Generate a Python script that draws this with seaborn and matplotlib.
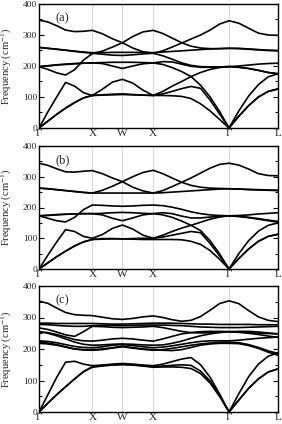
import matplotlib
matplotlib.use("Agg")
import matplotlib.pyplot as plt
from matplotlib.ticker import MultipleLocator
import pandas as pd
import seaborn as sns

# ---------------- data ----------------
# k-path coordinate (fraction of total path length) of the sampled k-points
K = [0.000, 0.037, 0.074, 0.111, 0.149, 0.186, 0.223,
     0.265, 0.307, 0.349,
     0.392, 0.435, 0.478,
     0.518, 0.557, 0.597, 0.636, 0.676, 0.716, 0.755, 0.795,
     0.836, 0.877, 0.918, 0.959, 1.000]
SYM_IDX = [0, 6, 9, 12, 20, 25]
SYM_LABELS = ["Γ", "X", "W", "X", "Γ", "L"]
PANEL_LABELS = ["(a)", "(b)", "(c)"]

# panel (a) branches, cm^-1
a1 = [348, 342, 330, 316, 311, 312, 315, 304, 288, 275, 258, 246, 241, 249, 261, 274, 287, 300, 316, 335, 346, 338, 322, 306, 300, 299]
a2 = [198, 189, 178, 171, 188, 219, 240, 248, 261, 275, 295, 310, 315, 305, 290, 275, 264, 258, 256, 256, 257, 256, 254, 252, 250, 249]
a3 = [260, 257, 254, 251, 248, 245, 243, 243, 244, 244, 244, 244, 243, 245, 247, 249, 251, 253, 255, 256, 257, 257, 255, 253, 251, 250]
a4 = [260, 257, 254, 251, 247, 244, 241, 238, 235, 234, 236, 239, 241, 233, 222, 210, 202, 198, 197, 197, 198, 200, 203, 206, 208, 209]
a5 = [198, 201, 204, 206, 208, 209, 210, 211, 212, 212, 212, 211, 210, 214, 213, 206, 199, 196, 196, 197, 198, 196, 192, 186, 179, 175]
a6 = [198, 200, 203, 205, 207, 209, 210, 208, 200, 192, 200, 207, 210, 205, 195, 182, 166, 138, 100, 54, 0, 55, 103, 140, 165, 175]
a7 = [0, 52, 100, 147, 135, 114, 105, 125, 148, 157, 145, 122, 105, 118, 135, 150, 166, 179, 189, 195, 198, 196, 192, 186, 179, 175]
a8 = [0, 22, 44, 64, 82, 97, 105, 106, 107, 108, 107, 106, 105, 105, 104, 102, 95, 78, 55, 28, 0, 38, 72, 100, 118, 126]
a9 = [0, 22, 44, 64, 82, 97, 105, 107, 109, 110, 108, 106, 105, 110, 118, 127, 134, 128, 90, 46, 0, 38, 72, 100, 118, 126]

# panel (b)
b1 = [344, 337, 326, 316, 315, 318, 320, 310, 296, 284, 266, 254, 247, 255, 268, 282, 296, 312, 328, 340, 344, 338, 325, 310, 304, 303]
b2 = [263, 261, 258, 255, 252, 249, 247, 256, 269, 284, 300, 314, 321, 310, 296, 282, 272, 266, 263, 262, 261, 260, 259, 258, 257, 256]
b3 = [263, 261, 258, 255, 252, 249, 247, 247, 247, 247, 247, 247, 247, 248, 250, 252, 254, 256, 258, 260, 261, 260, 258, 257, 256, 255]
b4 = [173, 165, 157, 153, 168, 193, 208, 207, 205, 204, 205, 207, 208, 206, 201, 194, 186, 180, 176, 174, 173, 174, 176, 179, 181, 183]
b5 = [173, 175, 177, 178, 179, 180, 180, 181, 183, 184, 183, 181, 180, 183, 180, 172, 166, 166, 169, 171, 173, 171, 168, 164, 159, 155]
b6 = [173, 174, 176, 178, 179, 180, 180, 176, 165, 157, 166, 176, 180, 176, 168, 156, 142, 125, 92, 50, 0, 50, 92, 123, 142, 150]
b7 = [0, 45, 88, 128, 122, 106, 100, 112, 132, 143, 130, 110, 100, 110, 122, 133, 142, 152, 162, 169, 173, 171, 167, 162, 157, 152]
b8 = [0, 20, 40, 58, 75, 88, 96, 97, 98, 98, 97, 96, 96, 96, 96, 95, 90, 80, 60, 32, 0, 34, 65, 90, 106, 113]
b9 = [0, 20, 40, 58, 75, 88, 96, 99, 99, 98, 99, 100, 100, 104, 110, 116, 122, 118, 83, 43, 0, 34, 65, 90, 106, 113]

# panel (c)
c1 = [352, 345, 330, 316, 309, 307, 306, 301, 296, 294, 297, 302, 305, 300, 293, 288, 291, 303, 323, 344, 353, 344, 322, 302, 291, 287]
c2 = [282, 282, 281, 281, 281, 281, 281, 280, 279, 279, 280, 281, 282, 282, 282, 281, 280, 279, 279, 278, 278, 278, 278, 277, 277, 277]
c3 = [278, 277, 275, 273, 272, 272, 274, 275, 275, 274, 275, 276, 276, 276, 275, 274, 272, 270, 269, 268, 268, 268, 269, 270, 271, 272]
c4 = [267, 262, 254, 245, 240, 255, 272, 271, 269, 268, 269, 270, 272, 268, 262, 256, 252, 251, 252, 254, 255, 254, 252, 250, 249, 248]
c5 = [255, 252, 246, 238, 230, 226, 225, 228, 232, 234, 232, 228, 225, 232, 240, 248, 252, 255, 256, 256, 255, 253, 250, 246, 241, 237]
c6 = [255, 250, 242, 232, 222, 215, 212, 213, 215, 216, 215, 213, 212, 213, 218, 225, 234, 242, 248, 252, 255, 256, 256, 254, 251, 248]
c7 = [226, 224, 220, 214, 208, 205, 204, 207, 212, 214, 211, 207, 204, 206, 210, 215, 220, 224, 226, 226, 226, 228, 231, 234, 236, 238]
c8 = [222, 219, 214, 207, 200, 197, 196, 198, 203, 207, 203, 199, 196, 198, 202, 207, 212, 216, 219, 221, 222, 220, 214, 205, 194, 186]
c9 = [218, 216, 212, 206, 200, 198, 198, 200, 204, 209, 204, 200, 198, 196, 195, 198, 205, 212, 216, 218, 218, 217, 211, 202, 190, 180]
c10 = [0, 55, 110, 158, 161, 152, 147, 149, 152, 154, 152, 149, 147, 152, 160, 168, 173, 150, 110, 58, 0, 58, 112, 152, 177, 188]
c11 = [0, 28, 55, 80, 105, 128, 142, 146, 149, 150, 149, 146, 142, 143, 143, 142, 138, 122, 92, 50, 0, 38, 75, 105, 127, 137]
c12 = [0, 28, 55, 80, 105, 128, 144, 148, 150, 152, 150, 147, 144, 146, 148, 150, 148, 130, 98, 54, 0, 38, 75, 105, 127, 137]

PANELS = [
    [a1, a2, a3, a4, a5, a6, a7, a8, a9],
    [b1, b2, b3, b4, b5, b6, b7, b8, b9],
    [c1, c2, c3, c4, c5, c6, c7, c8, c9, c10, c11, c12],
]

# ---------------- style ----------------
sns.set_style("white")
plt.rcParams["font.family"] = ["Liberation Serif", "DejaVu Serif"]
plt.rcParams["mathtext.fontset"] = "stix"

W, H = 282, 424
fig = plt.figure(figsize=(W / 100, H / 100), dpi=100)

# axes boxes in pixels: (left, top, right, bottom)
boxes = [(39, 4, 278, 128), (39, 146, 278, 269), (39, 286, 278, 412)]

for box, bands, plabel in zip(boxes, PANELS, PANEL_LABELS):
    l, t, r, b = box
    ax = fig.add_axes([l / W, 1 - b / H, (r - l) / W, (b - t) / H])
    rows = []
    for i, band in enumerate(bands):
        for k, f in zip(K, band):
            rows.append({"k": k, "freq": f, "band": i})
    df = pd.DataFrame(rows)

    for idx in SYM_IDX[1:-1]:
        ax.axvline(K[idx], color="#dcdcdc", lw=0.9, zorder=0)

    sns.lineplot(data=df, x="k", y="freq", units="band", estimator=None,
                 color="black", lw=1.2, ax=ax, legend=False)

    ax.set_xlim(0, 1)
    ax.set_ylim(0, 400)
    ax.set_xticks([K[i] for i in SYM_IDX])
    ax.set_xticklabels(SYM_LABELS)
    ax.yaxis.set_major_locator(MultipleLocator(100))
    ax.yaxis.set_minor_locator(MultipleLocator(50))
    ax.tick_params(axis="y", which="both", direction="in", left=True, right=True,
                   labelsize=6.8, pad=1.5, width=0.8, color="black")
    ax.tick_params(axis="y", which="major", length=3.5)
    ax.tick_params(axis="y", which="minor", length=2)
    ax.tick_params(axis="x", length=0, pad=1.0, labelsize=8)
    ax.set_xlabel("")
    ax.set_ylabel("Frequency (cm$^{-1}$)", fontsize=7.6)
    ax.yaxis.set_label_coords(-0.105, 0.5)
    for s in ax.spines.values():
        s.set_linewidth(1.0)
        s.set_color("black")
    ax.text(0.07, 0.885, plabel, transform=ax.transAxes, fontsize=9, va="center")

fig.savefig("out.png", dpi=100)
